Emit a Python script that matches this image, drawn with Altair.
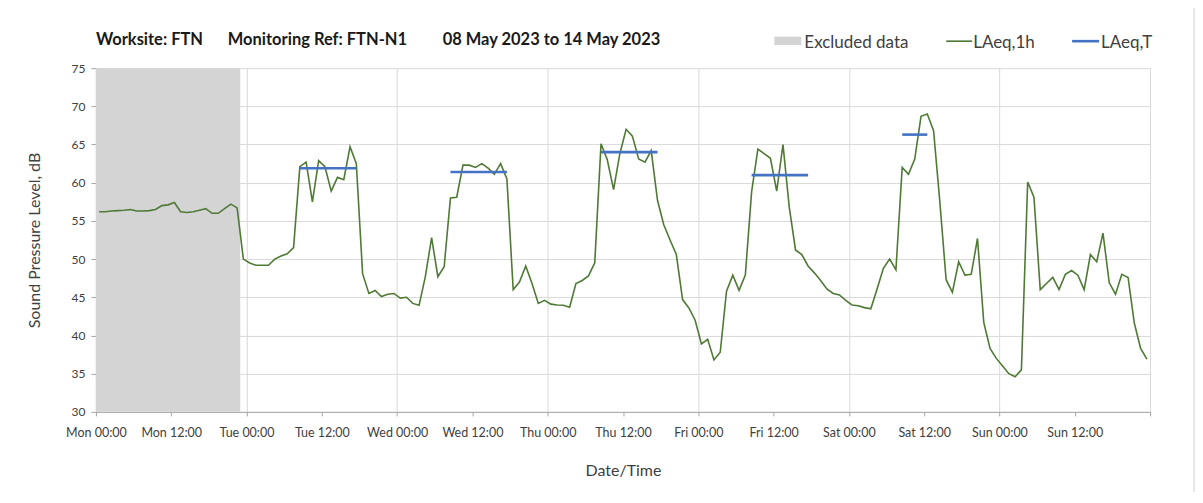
import altair as alt
import pandas as pd

# ---------------- data ----------------
days = ["Mon", "Tue", "Wed", "Thu", "Fri", "Sat", "Sun"]

# hourly LAeq,1h values, Mon 00:00 ... Sun 23:00
laeq_1h = [
    # Mon
    56.2, 56.2, 56.3, 56.35, 56.4, 56.5, 56.3, 56.3, 56.35, 56.5, 57.0, 57.1,
    57.4, 56.2, 56.1, 56.2, 56.4, 56.6, 56.0, 56.0, 56.6, 57.2, 56.7, 50.0,
    # Tue
    49.5, 49.2, 49.2, 49.2, 50.0, 50.4, 50.7, 51.5, 62.1, 62.7, 57.5, 62.9,
    62.1, 58.9, 60.7, 60.4, 64.7, 62.5, 48.1, 45.5, 45.9, 45.1, 45.4, 45.5,
    # Wed
    44.9, 45.0, 44.2, 43.95, 47.7, 52.8, 47.7, 49.0, 58.0, 58.1, 62.3, 62.3,
    62.0, 62.5, 61.9, 61.1, 62.5, 60.5, 46.0, 47.0, 49.1, 46.8, 44.2, 44.6,
    # Thu
    44.1, 44.0, 43.95, 43.7, 46.8, 47.2, 47.8, 49.5, 65.1, 63.0, 59.1, 63.8,
    67.0, 66.1, 63.1, 62.7, 64.2, 57.7, 54.5, 52.5, 50.6, 44.7, 43.6, 42.0,
    # Fri
    38.9, 39.5, 36.8, 37.8, 45.8, 47.9, 45.9, 47.9, 58.8, 64.4, 63.8, 63.2,
    58.9, 65.0, 56.8, 51.2, 50.6, 49.1, 48.2, 47.2, 46.1, 45.5, 45.3, 44.6,
    # Sat
    44.0, 43.9, 43.65, 43.5, 46.1, 48.8, 50.0, 48.6, 62.0, 61.1, 63.1, 68.7,
    69.0, 66.8, 57.5, 47.3, 45.65, 49.65, 47.9, 48.0, 52.7, 41.7, 38.3, 37.0,
    # Sun
    36.0, 35.0, 34.6, 35.5, 60.1, 58.1, 46.0, 46.8, 47.6, 46.0, 48.0, 48.5,
    47.9, 46.0, 50.6, 49.65, 53.4, 46.9, 45.4, 48.0, 47.6, 41.6, 38.3, 36.9,
]

# LAeq,T (daytime period) per day
laeq_t_day = [1, 2, 3, 4, 5]          # Tue..Sat
laeq_t_first_hour = [8, 8, 8, 8, 8]
laeq_t_last_hour = [17, 17, 17, 17, 12]
laeq_t_values = [61.9, 61.4, 64.0, 61.0, 66.3]

# excluded period (hours from Mon 00:00)
excluded_start = [0]
excluded_end = [23]

y_min, y_max = 30, 75
y_ticks = list(range(30, 76, 5))
x_ticks = list(range(0, 169, 12))

title_parts = ["Worksite: FTN", "Monitoring Ref: FTN-N1", "08 May 2023 to 14 May 2023"]
legend_labels = ["Excluded data", "LAeq,1h", "LAeq,T"]

GREEN = "#4f7a36"
BLUE = "#4472c4"
GREY = "#d4d4d4"
FONT = "Lato"

# ---------------- tables ----------------
line_df = pd.DataFrame({
    "x": [i + 0.5 for i in range(len(laeq_1h))],
    "y": laeq_1h,
})
t_df = pd.DataFrame({
    "x": [d * 24 + s + 0.5 for d, s in zip(laeq_t_day, laeq_t_first_hour)],
    "x2": [d * 24 + e + 0.5 for d, e in zip(laeq_t_day, laeq_t_last_hour)],
    "y": laeq_t_values,
})
ex_df = pd.DataFrame({"x": excluded_start, "x2": excluded_end,
                      "y": [y_min], "y2": [y_max]})

day_arr = "[" + ",".join("'%s'" % d for d in days) + "]"
label_expr = ("datum.value >= 168 ? '' : " + day_arr +
              "[floor(datum.value / 24)] + (datum.value % 24 == 0 ? ' 00:00' : ' 12:00')")

x_scale = alt.Scale(domain=[0, 168], nice=False, zero=False)
y_scale = alt.Scale(domain=[y_min, y_max], nice=False, zero=False)

x_axis = alt.Axis(
    values=x_ticks, labelExpr=label_expr, title="Date/Time",
    grid=True, gridColor="#d9d9d9",
    gridOpacity={"condition": {"test": "datum.value % 24 === 0", "value": 1}, "value": 0},
    domainColor="#a6a6a6", tickColor="#a6a6a6", tickSize=4,
    labelFont=FONT, labelFontSize=12.5, labelColor="#404040", labelPadding=11,
    labelFlush=False, labelOverlap=False,
    titleFont=FONT, titleFontSize=16, titleFontWeight="normal", titleColor="#404040",
    titlePadding=23,
)
y_axis = alt.Axis(
    values=y_ticks, title="Sound Pressure Level, dB",
    grid=True, gridColor="#d9d9d9", labelOverlap=False,
    domainColor="#a6a6a6", tickColor="#a6a6a6", tickSize=5,
    labelFont=FONT, labelFontSize=12, labelColor="#404040", labelPadding=6,
    titleFont=FONT, titleFontSize=16, titleFontWeight="normal", titleColor="#404040",
    titlePadding=29,
)

X = alt.X("x:Q", scale=x_scale, axis=x_axis, title="Date/Time")
Y = alt.Y("y:Q", scale=y_scale, axis=y_axis, title="Sound Pressure Level, dB")

excluded = alt.Chart(ex_df).mark_rect(color=GREY).encode(
    x=X, x2="x2:Q", y=Y, y2="y2:Q",
)

line = alt.Chart(line_df).mark_line(color=GREEN, strokeWidth=1.6).encode(x=X, y=Y)

laeq_t = alt.Chart(t_df).mark_rule(color=BLUE, strokeWidth=2.6).encode(
    x=X, x2="x2:Q", y=Y,
)

title_df = pd.DataFrame({"t": title_parts, "px": [0, 132, 347]})
title = alt.Chart(title_df).mark_text(
    align="left", baseline="alphabetic", font=FONT, fontSize=16.5,
    fontWeight="bold", color="#1a1a1a",
).encode(x=alt.X("px:Q", scale=None), y=alt.value(-23), text="t:N")

one = pd.DataFrame({"a": [0]})
border = alt.Chart(one).mark_rect(fill=None, stroke="#d0d0d0", strokeWidth=1).encode(
    x=alt.value(-90), x2=alt.value(1099), y=alt.value(-80), y2=alt.value(460))
leg_box = alt.Chart(one).mark_rect(color=GREY).encode(
    x=alt.value(679), x2=alt.value(706), y=alt.value(-31.5), y2=alt.value(-23))
leg_green = alt.Chart(one).mark_rule(color=GREEN, strokeWidth=1.6).encode(
    x=alt.value(851), x2=alt.value(877), y=alt.value(-27))
leg_blue = alt.Chart(one).mark_rule(color=BLUE, strokeWidth=2.6).encode(
    x=alt.value(977), x2=alt.value(1004), y=alt.value(-27))

leg_text_df = pd.DataFrame({"label": legend_labels, "px": [709, 878, 1006]})
leg_text = alt.Chart(leg_text_df).mark_text(
    align="left", baseline="alphabetic", font=FONT, fontSize=17, color="#404040",
).encode(x=alt.X("px:Q", scale=None), y=alt.value(-20.5), text="label:N")

chart = alt.layer(
    excluded, line, laeq_t, title, border, leg_box, leg_green, leg_blue, leg_text
).properties(
    width=1055, height=344,
    autosize=alt.AutoSizeParams(type="none"),
    padding={"left": 88, "top": 60, "right": 45, "bottom": 80},
    background="white",
).configure_view(stroke=None)

chart.save("out.html", embed_options={"renderer": "svg", "actions": False})
